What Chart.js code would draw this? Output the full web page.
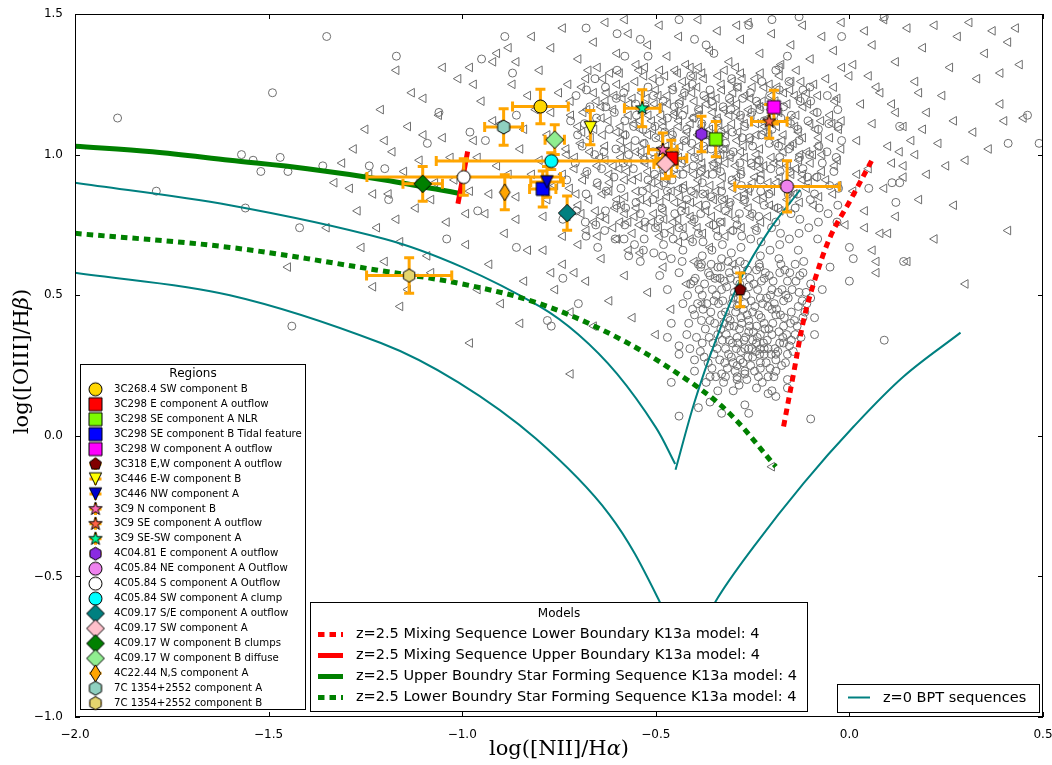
<!DOCTYPE html>
<html>
<head>
<meta charset="utf-8">
<title>BPT diagram</title>
<script src="https://cdn.jsdelivr.net/npm/chart.js@4.4.1/dist/chart.umd.min.js"></script>
<style>
  html, body { margin: 0; padding: 0; background: #ffffff; }
  canvas { display: block; }
</style>
</head>
<body>
<canvas id="myChart" width="1052" height="765" style="width:1052px;height:765px"></canvas>
<script>
// values
const xTicks = [-2.0, -1.5, -1.0, -0.5, 0.0, 0.5];
const yTicks = [-1.0, -0.5, 0.0, 0.5, 1.0, 1.5];

const regionLabels = [
  "3C268.4 SW component B",
  "3C298 E component A outflow",
  "3C298 SE component A NLR",
  "3C298 SE component B Tidal feature",
  "3C298 W component A outflow",
  "3C318 E,W component A outflow",
  "3C446 E-W component B",
  "3C446 NW component A",
  "3C9 N component B",
  "3C9 SE component A outflow",
  "3C9 SE-SW component A",
  "4C04.81 E component A outflow",
  "4C05.84 NE component A Outflow",
  "4C05.84 S component A Outflow",
  "4C05.84 SW component A clump",
  "4C09.17 S/E component A outflow",
  "4C09.17 SW component A",
  "4C09.17 W component B clumps",
  "4C09.17 W component B diffuse",
  "4C22.44 N,S component A",
  "7C 1354+2552 component A",
  "7C 1354+2552 component B"
];
const regionX = [-0.798, -0.460, -0.345, -0.792, -0.195, -0.282, -0.669, -0.781, -0.482, -0.207, -0.535,
  -0.382, -0.161, -0.996, -0.770, -0.729, -0.475, -1.102, -0.761, -0.890, -0.893, -1.137];
const regionY = [1.171, 0.987, 1.055, 0.878, 1.169, 0.519, 1.096, 0.903, 1.017, 1.118, 1.165,
  1.073, 0.887, 0.920, 0.977, 0.792, 0.967, 0.896, 1.053, 0.866, 1.098, 0.570];
const regionXErr = [0.072, 0.040, 0.0, 0.034, 0.0, 0.0, 0.0, 0.042, 0.037, 0.046, 0.046,
  0.0, 0.135, 0.250, 0.297, 0.0, 0.030, 0.051, 0.025, 0.0, 0.049, 0.110];
const regionYErr = [0.061, 0.064, 0.063, 0.064, 0.060, 0.060, 0.061, 0.055, 0.060, 0.060, 0.066,
  0.063, 0.091, 0.065, 0.030, 0.061, 0.053, 0.062, 0.053, 0.062, 0.065, 0.063];

const modelLabels = [
  "z=2.5 Mixing Sequence Lower Boundary K13a model: 4",
  "z=2.5 Mixing Sequence Upper Boundary K13a model: 4",
  "z=2.5 Upper Boundry Star Forming Sequence K13a model: 4",
  "z=2.5 Lower Boundry Star Forming Sequence K13a model: 4"
];
const bptLabel = "z=0 BPT sequences";

// model curves
const mixLowerX = [-0.170, -0.144, -0.118, -0.092, -0.049, 0.003, 0.063];
const mixLowerY = [0.033, 0.223, 0.413, 0.543, 0.709, 0.839, 0.993];
const mixUpperX = [-1.011, -0.986];
const mixUpperY = [0.825, 1.011];
const sfUpperX = [-2.0, -1.8, -1.6, -1.4, -1.2, -1.0];
const sfUpperY = [1.03, 1.01, 0.98, 0.95, 0.91, 0.86];
const sfLowerX = [-2.0, -1.6, -1.2, -1.0, -0.8, -0.6, -0.42, -0.31, -0.19];
const sfLowerY = [0.72, 0.67, 0.585, 0.54, 0.47, 0.35, 0.20, 0.08, -0.11];

// z=0 BPT sequences
const bptAX = [-2.0, -1.6, -1.2, -1.0, -0.8, -0.7, -0.6, -0.5, -0.45];
const bptAY = [0.90, 0.82, 0.70, 0.60, 0.46, 0.36, 0.22, 0.03, -0.10];
const bptBX = [-0.449, -0.400, -0.345, -0.280, -0.205, -0.127];
const bptBY = [-0.121, 0.120, 0.340, 0.560, 0.735, 0.875];
const bptCX = [-2.0, -1.6, -1.21, -1.01, -0.81, -0.62, -0.49, -0.46];
const bptCY = [0.58, 0.50, 0.33, 0.19, -0.01, -0.28, -0.59, -0.72];
const bptDX = [-0.40, -0.346, -0.247, -0.118, 0.011, 0.140, 0.287];
const bptDY = [-0.75, -0.59, -0.394, -0.168, 0.033, 0.211, 0.367];

// comparison sample, open left triangles
const sampleTriangles = [
  [-0.98,1.31],[-0.91,1.36],[-0.86,1.33],[-0.82,1.42],[-0.77,1.38],[-0.74,1.45],[-0.70,1.34],[-0.66,1.40],
  [-0.63,1.47],[-0.60,1.36],[-0.57,1.43],[-0.55,1.32],[-0.52,1.39],[-0.49,1.46],[-0.47,1.35],[-0.44,1.42],
  [-0.41,1.31],[-0.39,1.48],[-0.36,1.37],[-0.34,1.44],[-0.31,1.33],[-0.28,1.41],[-0.26,1.47],[-0.23,1.36],
  [-0.20,1.43],[-0.18,1.31],[-0.15,1.39],[-0.12,1.46],[-0.10,1.34],[-0.07,1.42],[-0.04,1.37],[-0.02,1.47],
  [0.01,1.32],[0.04,1.44],[0.06,1.39],[0.09,1.48],[-0.65,1.31],[-0.45,1.30],[-0.29,1.46],[-0.58,1.48],
  [0.12,1.33],[0.15,1.45],[0.17,1.26],[0.19,1.38],[0.22,1.46],[0.24,1.21],[0.26,1.31],[0.28,1.42],
  [0.31,1.47],[0.33,1.27],[0.35,1.36],[0.37,1.44],[0.39,1.18],[0.41,1.40],[0.43,1.45],[0.11,1.18],
  [0.14,1.10],[0.20,1.15],[0.23,1.04],[0.27,1.12],[0.30,0.98],[0.32,1.08],[0.36,1.02],[0.40,1.12],
  [0.44,1.32],[0.18,1.22],[0.25,0.96],[0.13,1.01],[0.08,1.22],[0.05,1.28],
  [-0.04,1.24],[-0.02,1.12],[0.00,1.28],[0.02,1.05],[0.03,1.18],[0.05,0.95],[0.06,1.11],[0.07,1.24],
  [0.09,0.88],[0.10,1.03],[0.12,1.15],[0.14,0.92],[0.16,1.05],[0.18,0.84],[-0.03,0.98],[0.01,0.87],
  [0.04,0.80],[0.08,0.72],[0.12,0.78],[0.20,0.93],[0.22,0.70],[0.15,0.62],[0.27,0.82],[-0.01,0.75],
  [0.06,0.66],[0.30,0.54],[0.11,0.97],[0.19,1.09],[-0.05,1.06],[0.02,0.93],
  [-0.70,0.82],[-0.71,0.95],[-0.69,1.08],[-0.72,1.19],[-0.68,1.27],
  [-0.66,0.76],[-0.65,0.89],[-0.67,1.01],[-0.64,1.13],[-0.66,1.22],[-0.63,0.98],
  [-0.61,0.74],[-0.60,0.84],[-0.62,0.93],[-0.59,1.05],[-0.61,1.16],[-0.60,1.25],[-0.58,0.79],
  [-0.56,0.72],[-0.55,0.87],[-0.57,0.97],[-0.54,1.09],[-0.56,1.20],[-0.53,1.28],[-0.55,0.81],[-0.57,1.03],
  [-0.51,0.76],[-0.50,0.86],[-0.52,0.94],[-0.49,1.02],[-0.51,1.12],[-0.50,1.23],[-0.48,0.80],[-0.52,1.07],[-0.49,1.17],
  [-0.46,0.73],[-0.45,0.83],[-0.47,0.91],[-0.44,0.99],[-0.46,1.08],[-0.45,1.15],[-0.43,1.26],[-0.47,1.21],[-0.44,0.88],
  [-0.41,0.78],[-0.40,0.86],[-0.42,0.95],[-0.39,1.03],[-0.41,1.11],[-0.40,1.19],[-0.38,1.29],[-0.42,1.24],[-0.39,0.91],
  [-0.36,0.75],[-0.35,0.84],[-0.37,0.93],[-0.34,1.00],[-0.36,1.09],[-0.35,1.17],[-0.33,1.25],[-0.37,0.80],[-0.34,1.13],
  [-0.31,0.79],[-0.30,0.88],[-0.32,0.97],[-0.29,1.05],[-0.31,1.14],[-0.30,1.22],[-0.28,1.29],[-0.32,1.02],[-0.29,0.92],
  [-0.26,0.81],[-0.25,0.90],[-0.27,0.99],[-0.24,1.07],[-0.26,1.16],[-0.25,1.24],[-0.23,0.95],[-0.27,1.11],
  [-0.21,0.78],[-0.20,0.87],[-0.22,0.96],[-0.19,1.04],[-0.21,1.13],[-0.20,1.21],[-0.18,1.28],[-0.22,1.08],
  [-0.16,0.84],[-0.15,0.93],[-0.17,1.01],[-0.14,1.10],[-0.16,1.18],[-0.15,1.26],[-0.13,0.98],
  [-0.11,0.88],[-0.10,0.97],[-0.12,1.06],[-0.09,1.15],[-0.11,1.22],[-0.08,1.03],
  [-0.06,0.91],[-0.07,1.00],[-0.05,1.14],[-0.06,1.27],
  [-0.63,1.19],[-0.58,0.91],[-0.53,0.99],[-0.48,1.10],[-0.43,0.82],[-0.38,0.97],[-0.33,0.89],[-0.28,1.01],
  [-0.23,1.17],[-0.18,0.92],[-0.13,1.20],[-0.62,0.87],[-0.57,1.14],[-0.52,0.83],[-0.47,0.97],[-0.42,1.05],
  [-0.37,1.20],[-0.32,1.09],[-0.27,0.86],[-0.22,1.24],[-0.17,1.07],[-0.12,0.93],[-0.54,1.16],[-0.44,1.12],
  [-0.34,0.95],[-0.24,1.00],[-0.59,0.99],[-0.49,0.89],[-0.39,1.14],[-0.29,1.18],
  [-0.728,0.78],[-0.722,0.88],[-0.731,1.02],[-0.719,1.14],[-0.726,1.25],
  [-0.679,0.73],[-0.672,0.84],[-0.681,0.93],[-0.668,1.06],[-0.677,1.16],[-0.674,1.30],
  [-0.628,0.77],[-0.619,0.90],[-0.631,1.03],[-0.622,1.12],[-0.627,1.22],[-0.618,1.29],
  [-0.571,0.76],[-0.579,0.85],[-0.574,0.94],[-0.582,1.07],[-0.569,1.18],[-0.576,1.24],
  [-0.529,0.74],[-0.521,0.88],[-0.527,0.97],[-0.532,1.04],[-0.519,1.14],[-0.524,1.20],[-0.528,1.31],
  [-0.478,0.77],[-0.471,0.85],[-0.479,0.94],[-0.473,1.03],[-0.481,1.12],[-0.469,1.18],[-0.476,1.28],
  [-0.428,0.74],[-0.421,0.80],[-0.427,0.89],[-0.431,0.98],[-0.419,1.08],[-0.424,1.16],[-0.429,1.21],[-0.422,1.32],
  [-0.378,0.72],[-0.371,0.86],[-0.379,0.95],[-0.373,1.02],[-0.381,1.10],[-0.369,1.18],[-0.376,1.27],
  [-0.328,0.76],[-0.321,0.84],[-0.327,0.92],[-0.331,1.00],[-0.319,1.07],[-0.324,1.16],[-0.329,1.23],[-0.322,1.30],
  [-0.278,0.74],[-0.271,0.83],[-0.279,0.94],[-0.273,1.03],[-0.281,1.13],[-0.269,1.21],[-0.276,1.27],
  [-0.228,0.76],[-0.221,0.85],[-0.227,0.93],[-0.231,1.02],[-0.219,1.10],[-0.224,1.19],[-0.229,1.29],
  [-0.178,0.80],[-0.171,0.89],[-0.179,0.97],[-0.173,1.05],[-0.181,1.15],[-0.169,1.22],[-0.176,1.32],
  [-0.128,0.83],[-0.121,0.91],[-0.127,1.00],[-0.131,1.08],[-0.119,1.17],[-0.124,1.26],
  [-0.078,0.85],[-0.071,0.94],[-0.079,1.06],[-0.073,1.12],[-0.081,1.21],
  [-0.028,0.89],[-0.021,1.02],[-0.027,1.09],[-0.031,1.20],[-0.019,1.31],
  [-0.705,0.86],[-0.709,0.99],[-0.701,1.10],
  [-0.655,0.80],[-0.651,0.96],[-0.659,1.09],[-0.653,1.19],
  [-0.605,0.81],[-0.609,0.96],[-0.601,1.08],[-0.607,1.21],
  [-0.555,0.78],[-0.559,0.91],[-0.551,1.01],[-0.557,1.11],[-0.553,1.26],
  [-0.505,0.79],[-0.509,0.90],[-0.501,0.99],[-0.507,1.09],[-0.503,1.18],[-0.506,1.27],
  [-0.455,0.76],[-0.459,0.87],[-0.451,0.95],[-0.457,1.05],[-0.453,1.14],[-0.456,1.24],
  [-0.405,0.76],[-0.409,0.83],[-0.401,0.93],[-0.407,1.01],[-0.403,1.13],[-0.406,1.22],[-0.402,1.28],
  [-0.355,0.78],[-0.359,0.89],[-0.351,0.97],[-0.357,1.06],[-0.353,1.15],[-0.356,1.21],
  [-0.305,0.73],[-0.309,0.82],[-0.301,0.90],[-0.307,0.99],[-0.303,1.11],[-0.306,1.19],[-0.302,1.26],
  [-0.255,0.78],[-0.259,0.87],[-0.251,0.96],[-0.257,1.05],[-0.253,1.14],[-0.256,1.20],
  [-0.205,0.82],[-0.209,0.90],[-0.201,0.99],[-0.207,1.07],[-0.203,1.16],[-0.206,1.25],
  [-0.155,0.87],[-0.159,0.96],[-0.151,1.03],[-0.157,1.12],[-0.153,1.23],
  [-0.105,0.90],[-0.109,1.01],[-0.101,1.11],[-0.107,1.18],
  [-0.692,0.79],[-0.688,0.91],[-0.694,1.04],[-0.687,1.15],[-0.691,1.24],
  [-0.642,0.78],[-0.638,0.86],[-0.644,0.99],[-0.637,1.07],[-0.641,1.17],[-0.636,1.27],
  [-0.592,0.76],[-0.588,0.82],[-0.594,0.95],[-0.587,1.02],[-0.591,1.10],[-0.586,1.20],[-0.593,1.29],
  [-0.542,0.75],[-0.538,0.84],[-0.544,0.92],[-0.537,1.01],[-0.541,1.12],[-0.536,1.22],[-0.543,1.30],
  [-0.492,0.74],[-0.488,0.83],[-0.494,0.92],[-0.487,0.98],[-0.491,1.06],[-0.486,1.14],[-0.493,1.21],[-0.489,1.30],
  [-0.442,0.77],[-0.438,0.85],[-0.444,0.93],[-0.437,1.03],[-0.441,1.10],[-0.436,1.19],[-0.443,1.29],
  [-0.392,0.74],[-0.388,0.82],[-0.394,0.88],[-0.387,0.99],[-0.391,1.07],[-0.386,1.16],[-0.393,1.24],[-0.389,1.31],
  [-0.342,0.73],[-0.338,0.81],[-0.344,0.87],[-0.337,0.98],[-0.341,1.04],[-0.336,1.11],[-0.343,1.20],[-0.339,1.28],
  [-0.292,0.77],[-0.288,0.85],[-0.294,0.96],[-0.287,1.08],[-0.291,1.15],[-0.286,1.24],[-0.293,1.31],
  [-0.242,0.74],[-0.238,0.84],[-0.244,0.92],[-0.237,0.98],[-0.241,1.11],[-0.236,1.18],[-0.243,1.27],
  [-0.192,0.81],[-0.188,0.90],[-0.194,0.97],[-0.187,1.10],[-0.191,1.19],[-0.186,1.24],
  [-0.142,0.86],[-0.138,0.95],[-0.144,1.04],[-0.137,1.14],[-0.141,1.21],[-0.136,1.30],
  [-0.092,0.82],[-0.088,0.92],[-0.094,1.00],[-0.087,1.09],[-0.091,1.25],
  [-0.042,0.86],[-0.038,0.96],[-0.044,1.11],[-0.037,1.19],
  [-1.31,0.97],[-1.29,0.88],[-1.27,0.80],[-1.25,1.09],[-1.24,0.93],[-1.22,0.74],[-1.21,1.16],[-1.19,0.86],
  [-1.18,1.01],[-1.16,0.69],[-1.15,0.94],[-1.13,1.22],[-1.12,0.81],[-1.10,1.07],[-1.09,0.64],[-1.07,0.90],
  [-1.06,1.14],[-1.04,0.76],[-1.03,0.99],[-1.01,1.27],[-0.99,0.68],[-0.98,0.87],[-0.97,1.05],[-0.95,1.19],
  [-0.94,0.79],[-0.93,0.61],[-0.91,0.96],[-0.90,1.11],[-0.89,0.72],[-0.87,1.25],[-0.86,0.85],[-0.85,1.02],
  [-0.83,0.66],[-0.82,0.93],[-0.81,1.16],[-0.79,0.78],[-0.78,1.07],[-0.77,0.58],[-0.76,0.89],[-0.75,1.22],
  [-0.74,0.71],[-0.73,1.00],[-0.80,1.30],[-0.92,1.33],[-1.05,1.31],[-0.84,0.55],[-0.96,0.52],[-1.08,0.58],
  [-1.20,0.62],[-0.88,1.38],[-1.14,0.52],[-1.26,0.67],[-1.33,0.90],[-1.35,0.74],[-1.17,1.30],
  [-1.28,1.02],[-1.23,0.86],[-1.20,1.05],[-1.17,0.77],[-1.14,1.10],[-1.11,0.98],[-1.08,0.84],[-1.05,1.06],
  [-1.02,0.91],[-0.99,0.79],[-0.96,0.99],[-0.93,0.86],[-0.92,1.12],[-0.88,0.93],[-0.86,0.77],[-0.84,1.09],
  [-0.80,0.98],[-0.78,0.84],[-0.77,1.15],[-0.74,0.93],[-0.83,1.21],[-0.97,1.25],[-1.10,1.20],
  [-0.79,0.66],[-0.76,0.52],[-0.74,0.61],[-0.72,0.44],[-0.70,0.68],[-0.68,0.55],[-0.66,0.39],[-0.64,0.63],
  [-0.62,0.48],[-0.60,0.70],[-0.58,0.57],[-0.56,0.42],[-0.54,0.65],[-0.52,0.51],[-0.50,0.36],[-0.48,0.60],
  [-0.46,0.45],[-0.44,0.69],[-0.42,0.54],[-0.40,0.62],[-0.38,0.47],[-0.36,0.67],[-0.34,0.56],[-0.32,0.71],
  [-0.30,0.61],[-0.71,0.58],[-0.65,0.71],[-0.57,0.66],[-0.49,0.71],[-0.41,0.70],
  [0.07,0.58],[0.10,0.72],[0.14,0.96],[0.17,1.00],[0.04,0.74],[0.41,0.73],[0.45,1.13],[0.39,1.29],
  [0.07,0.62],[-0.72,0.22],[-1.45,0.60],[-1.23,0.53],[-1.16,0.46],[-0.98,0.33],[-0.20,-0.11],[-0.85,0.40],
  [-0.90,0.47]
];

// comparison sample, open circles
const sampleCircles = [
  [-0.73,0.91],[-0.72,1.12],[-0.74,0.77],
  [-0.68,0.86],[-0.69,1.03],[-0.67,1.17],[-0.68,0.71],
  [-0.63,0.80],[-0.64,0.95],[-0.62,1.09],[-0.63,1.24],[-0.65,0.67],
  [-0.58,0.75],[-0.59,0.88],[-0.57,1.00],[-0.58,1.12],[-0.60,1.30],[-0.57,0.64],
  [-0.53,0.70],[-0.54,0.79],[-0.52,0.91],[-0.53,1.04],[-0.55,1.14],[-0.52,1.24],[-0.54,0.62],
  [-0.48,0.68],[-0.49,0.77],[-0.47,0.87],[-0.48,0.95],[-0.50,1.06],[-0.47,1.13],[-0.49,1.26],[-0.46,0.63],
  [-0.43,0.66],[-0.44,0.74],[-0.42,0.84],[-0.43,0.93],[-0.45,1.01],[-0.42,1.09],[-0.44,1.18],[-0.41,1.28],
  [-0.38,0.64],[-0.39,0.72],[-0.37,0.82],[-0.38,0.90],[-0.40,0.99],[-0.37,1.07],[-0.39,1.16],[-0.36,1.23],
  [-0.33,0.63],[-0.34,0.71],[-0.32,0.80],[-0.33,0.87],[-0.35,0.96],[-0.32,1.04],[-0.34,1.12],[-0.31,1.20],
  [-0.28,0.67],[-0.29,0.75],[-0.27,0.84],[-0.28,0.93],[-0.30,1.01],[-0.27,1.10],[-0.29,1.24],
  [-0.23,0.64],[-0.24,0.73],[-0.22,0.82],[-0.23,0.91],[-0.25,1.03],[-0.22,1.12],[-0.24,1.19],
  [-0.18,0.68],[-0.19,0.76],[-0.17,0.89],[-0.18,0.99],[-0.20,1.09],[-0.17,1.17],[-0.19,1.30],
  [-0.13,0.72],[-0.14,0.81],[-0.12,0.95],[-0.13,1.05],[-0.15,1.14],[-0.12,1.23],
  [-0.08,0.76],[-0.09,0.86],[-0.07,0.97],[-0.08,1.09],[-0.10,1.19],
  [-0.03,0.82],[-0.04,0.94],[-0.02,1.05],[-0.03,1.16],
  [-0.705,0.80],[-0.708,0.97],[-0.702,1.07],[-0.706,1.21],
  [-0.655,0.75],[-0.651,0.90],[-0.658,1.00],[-0.653,1.13],[-0.657,1.27],
  [-0.605,0.70],[-0.601,0.82],[-0.608,0.92],[-0.603,1.02],[-0.607,1.15],[-0.602,1.20],
  [-0.555,0.68],[-0.551,0.83],[-0.558,0.95],[-0.553,1.05],[-0.557,1.10],[-0.552,1.18],
  [-0.505,0.65],[-0.501,0.74],[-0.508,0.84],[-0.503,0.93],[-0.507,1.01],[-0.502,1.10],[-0.506,1.21],
  [-0.455,0.70],[-0.451,0.79],[-0.458,0.91],[-0.453,1.00],[-0.457,1.07],[-0.452,1.17],[-0.456,1.23],
  [-0.405,0.69],[-0.401,0.77],[-0.408,0.87],[-0.403,0.96],[-0.407,1.04],[-0.402,1.13],[-0.406,1.25],
  [-0.355,0.66],[-0.351,0.75],[-0.358,0.85],[-0.353,0.93],[-0.357,1.02],[-0.352,1.10],[-0.356,1.19],
  [-0.305,0.65],[-0.301,0.73],[-0.308,0.83],[-0.303,0.91],[-0.307,1.00],[-0.302,1.08],[-0.306,1.16],[-0.304,1.27],
  [-0.255,0.70],[-0.251,0.79],[-0.258,0.88],[-0.253,0.97],[-0.257,1.06],[-0.252,1.15],[-0.256,1.22],
  [-0.205,0.66],[-0.201,0.74],[-0.208,0.86],[-0.203,0.95],[-0.207,1.04],[-0.202,1.13],[-0.206,1.21],
  [-0.155,0.70],[-0.151,0.79],[-0.158,0.86],[-0.153,0.94],[-0.157,1.02],[-0.152,1.11],[-0.156,1.26],
  [-0.105,0.74],[-0.101,0.84],[-0.108,0.92],[-0.103,1.00],[-0.107,1.12],[-0.102,1.24],
  [-0.055,0.79],[-0.051,0.89],[-0.058,1.01],[-0.053,1.11],[-0.057,1.21],
  [-0.682,0.76],[-0.678,0.94],[-0.684,1.11],[-0.679,1.23],
  [-0.632,0.73],[-0.628,0.87],[-0.634,1.01],[-0.629,1.17],
  [-0.582,0.70],[-0.578,0.81],[-0.584,0.97],[-0.579,1.07],[-0.583,1.22],
  [-0.532,0.66],[-0.528,0.76],[-0.534,0.87],[-0.529,0.98],[-0.533,1.09],[-0.527,1.17],
  [-0.482,0.64],[-0.478,0.72],[-0.484,0.81],[-0.479,0.90],[-0.483,0.99],[-0.477,1.08],[-0.481,1.19],
  [-0.432,0.62],[-0.428,0.71],[-0.434,0.80],[-0.429,0.88],[-0.433,0.97],[-0.427,1.05],[-0.431,1.14],[-0.426,1.22],
  [-0.382,0.61],[-0.378,0.69],[-0.384,0.79],[-0.379,0.86],[-0.383,0.94],[-0.377,1.03],[-0.381,1.11],[-0.376,1.21],
  [-0.332,0.60],[-0.328,0.68],[-0.334,0.76],[-0.329,0.84],[-0.333,0.94],[-0.327,1.02],[-0.331,1.08],[-0.326,1.17],
  [-0.282,0.62],[-0.278,0.71],[-0.284,0.79],[-0.279,0.89],[-0.283,0.97],[-0.277,1.06],[-0.281,1.14],[-0.276,1.20],
  [-0.232,0.60],[-0.228,0.69],[-0.234,0.78],[-0.229,0.87],[-0.233,0.98],[-0.227,1.07],[-0.231,1.16],[-0.226,1.26],
  [-0.182,0.63],[-0.178,0.72],[-0.184,0.81],[-0.179,0.94],[-0.183,1.03],[-0.177,1.13],[-0.181,1.23],
  [-0.132,0.66],[-0.128,0.77],[-0.134,0.86],[-0.129,0.99],[-0.133,1.09],[-0.127,1.19],
  [-0.082,0.70],[-0.078,0.81],[-0.084,0.92],[-0.079,1.03],[-0.083,1.15],
  [-0.032,0.76],[-0.028,0.88],[-0.034,0.99],[-0.029,1.10],
  [-0.44,0.58],[-0.43,0.47],[-0.42,0.36],[-0.41,0.54],[-0.40,0.27],[-0.40,0.43],[-0.39,0.61],[-0.38,0.50],
  [-0.38,0.33],[-0.37,0.19],[-0.36,0.57],[-0.36,0.41],[-0.35,0.29],[-0.35,0.48],[-0.34,0.60],[-0.34,0.36],
  [-0.33,0.22],[-0.33,0.52],[-0.32,0.44],[-0.32,0.31],[-0.31,0.58],[-0.31,0.39],[-0.30,0.26],[-0.30,0.49],
  [-0.29,0.35],[-0.29,0.55],[-0.28,0.42],[-0.28,0.30],[-0.27,0.61],[-0.27,0.47],[-0.27,0.22],[-0.26,0.37],
  [-0.26,0.53],[-0.25,0.28],[-0.25,0.44],[-0.24,0.59],[-0.24,0.33],[-0.23,0.49],[-0.23,0.24],[-0.22,0.40],
  [-0.22,0.56],[-0.21,0.31],[-0.21,0.46],[-0.20,0.36],[-0.20,0.52],[-0.19,0.27],[-0.19,0.43],[-0.18,0.58],
  [-0.18,0.33],[-0.17,0.48],[-0.17,0.39],[-0.16,0.55],[-0.16,0.29],[-0.15,0.44],[-0.14,0.61],[-0.14,0.36],
  [-0.13,0.51],[-0.12,0.42],[-0.12,0.58],[-0.11,0.47],[-0.10,0.54],[-0.36,0.12],[-0.33,0.08],[-0.30,0.16],
  [-0.27,0.11],[-0.24,0.17],[-0.21,0.21],[-0.19,0.14],[-0.16,0.20],[-0.29,0.20],[-0.34,0.16],[-0.39,0.10],
  [-0.44,0.29],[-0.46,0.40],[-0.47,0.52],[-0.31,0.34],[-0.26,0.41],[-0.22,0.29],[-0.28,0.52],[-0.24,0.39],
  [-0.20,0.45],[-0.33,0.43],[-0.25,0.34],[-0.29,0.46],[-0.23,0.36],
  [-0.415,0.40],[-0.418,0.50],[-0.412,0.31],
  [-0.395,0.35],[-0.392,0.47],[-0.398,0.56],
  [-0.375,0.28],[-0.372,0.38],[-0.378,0.45],[-0.374,0.54],
  [-0.355,0.24],[-0.352,0.33],[-0.358,0.44],[-0.354,0.52],[-0.357,0.61],
  [-0.335,0.27],[-0.332,0.38],[-0.338,0.47],[-0.334,0.56],
  [-0.315,0.24],[-0.312,0.29],[-0.318,0.36],[-0.314,0.42],[-0.317,0.53],[-0.313,0.62],
  [-0.295,0.23],[-0.292,0.31],[-0.298,0.39],[-0.294,0.44],[-0.297,0.51],[-0.293,0.59],
  [-0.275,0.26],[-0.272,0.34],[-0.278,0.40],[-0.274,0.45],[-0.277,0.57],
  [-0.255,0.25],[-0.252,0.31],[-0.258,0.39],[-0.254,0.48],[-0.257,0.56],
  [-0.235,0.21],[-0.232,0.29],[-0.238,0.35],[-0.234,0.43],[-0.237,0.52],[-0.233,0.61],
  [-0.215,0.26],[-0.212,0.34],[-0.218,0.38],[-0.214,0.49],[-0.217,0.58],
  [-0.195,0.21],[-0.192,0.31],[-0.198,0.40],[-0.194,0.47],[-0.197,0.55],
  [-0.175,0.25],[-0.172,0.35],[-0.178,0.43],[-0.174,0.52],[-0.177,0.61],
  [-0.155,0.32],[-0.152,0.40],[-0.158,0.49],[-0.154,0.58],
  [-0.135,0.39],[-0.132,0.46],[-0.138,0.55],
  [-0.115,0.44],[-0.112,0.51],[-0.118,0.62],
  [-0.405,0.45],[-0.402,0.55],
  [-0.385,0.30],[-0.382,0.41],[-0.388,0.52],[-0.384,0.60],
  [-0.365,0.26],[-0.362,0.35],[-0.368,0.47],[-0.364,0.58],
  [-0.345,0.21],[-0.342,0.31],[-0.348,0.40],[-0.344,0.50],[-0.347,0.56],
  [-0.325,0.19],[-0.322,0.26],[-0.328,0.34],[-0.324,0.40],[-0.327,0.48],[-0.323,0.55],
  [-0.305,0.28],[-0.302,0.33],[-0.308,0.41],[-0.304,0.47],[-0.307,0.56],
  [-0.285,0.18],[-0.282,0.27],[-0.288,0.33],[-0.284,0.38],[-0.287,0.49],[-0.283,0.54],
  [-0.265,0.20],[-0.262,0.28],[-0.268,0.35],[-0.264,0.43],[-0.267,0.50],[-0.263,0.59],
  [-0.245,0.23],[-0.242,0.30],[-0.248,0.37],[-0.244,0.46],[-0.247,0.54],
  [-0.225,0.19],[-0.222,0.33],[-0.228,0.42],[-0.224,0.47],[-0.227,0.55],
  [-0.205,0.24],[-0.202,0.29],[-0.208,0.38],[-0.204,0.50],[-0.207,0.57],
  [-0.185,0.30],[-0.182,0.37],[-0.188,0.45],[-0.184,0.51],
  [-0.165,0.26],[-0.162,0.36],[-0.168,0.42],[-0.164,0.50],[-0.167,0.59],
  [-0.145,0.30],[-0.142,0.41],[-0.148,0.52],
  [-0.125,0.35],[-0.122,0.48],[-0.128,0.57],
  [-1.89,1.13],[-1.49,1.22],[-1.35,1.42],[-1.17,1.35],[-1.57,1.00],[-1.54,0.98],[-1.47,0.99],[-1.52,0.94],
  [-1.45,0.94],[-1.79,0.87],[-1.56,0.81],[-1.42,0.74],[-1.44,0.39],[-1.36,0.96],[-1.24,0.96],[-1.20,0.95],
  [-1.19,0.84],[-1.04,0.70],[-0.86,0.67],[-0.74,0.56],[-0.78,0.41],[-0.77,0.39],[-0.70,0.47],[-0.46,0.19],
  [-0.47,0.35],[-0.49,0.57],[-1.09,1.04],[-1.11,0.90],[-0.94,1.05],[-0.86,1.14],[-0.96,0.80],[-1.06,1.15],
  [-0.98,1.08],[-0.95,1.34],[-0.87,1.29],
  [-0.89,1.42],[-0.60,1.43],[-0.54,1.41],[-0.44,1.48],[-0.40,1.41],[-0.37,1.39],[-0.26,1.46],[-0.20,1.48],
  [-0.13,1.49],[0.09,1.49],[-0.02,1.42],[-0.58,1.35],[-0.52,1.35],[-0.35,1.36],[-0.68,1.45],[-0.16,1.35],
  [0.41,1.04],[0.13,1.10],[0.11,0.90],[0.13,0.90],[0.12,0.83],[0.14,0.62],[0.00,0.55],[-0.05,0.60],
  [-0.07,0.52],[-0.10,0.49],[0.09,0.34],[0.00,0.67],[0.01,0.63],[-0.10,0.06],[-0.09,0.42],[-0.09,0.36],
  [0.05,0.88],[0.49,1.04],[0.46,1.14],[-0.44,0.07],[-0.26,0.08],[-0.21,0.15],[-0.20,0.16],[-0.16,0.17],
  [-0.40,0.23],[-0.36,0.21],[-0.32,0.21],[-0.29,0.21],[-0.29,0.25],[-0.27,0.23],[-0.23,0.26],[-0.19,0.23],
  [-0.44,0.32],[-0.27,0.31],[-0.26,0.31],[-0.23,0.31],[-0.22,0.31],[-0.19,0.29],[-0.17,0.33],[-0.15,0.34]
];

// marker styles (not data)
const regionShapes = ['o','s','s','s','s','p','v','v','*','*','*','h','o','o','o','D','D','D','D','d','h','h'];
const regionColors = ['#ffd700','#ff0000','#7cfc00','#0000ff','#ff00ff','#800000','#ffff00','#0000cd',
  '#ff69b4','#ff6347','#00fa9a','#8a2be2','#ee82ee','#ffffff','#00ffff','#008080','#ffc0cb','#008000',
  '#90ee90','#ffa500','#8fd0c0','#e5d66e'];
const regionRadius = [6.5, 6.5, 6.5, 6.5, 6.5, 6.2, 6.2, 6.2, 7, 7, 7, 6.4, 6.5, 6.5, 6.5,
  8.8, 8.8, 8.8, 8.8, 8.5, 7, 6.6];

function makeMarker(shape, fill, edge, r, lw) {
  const s = Math.ceil(2 * r + 4);
  const c = document.createElement('canvas');
  c.width = s; c.height = s;
  const g = c.getContext('2d');
  const cx = s / 2, cy = s / 2;
  g.beginPath();
  if (shape === 'o') {
    g.arc(cx, cy, r, 0, Math.PI * 2);
  } else if (shape === 's') {
    g.rect(cx - r, cy - r, 2 * r, 2 * r);
  } else if (shape === 'D' || shape === 'd') {
    const w = shape === 'D' ? r : r * 0.62;
    g.moveTo(cx, cy - r); g.lineTo(cx + w, cy); g.lineTo(cx, cy + r); g.lineTo(cx - w, cy);
  } else if (shape === 'v') {
    g.moveTo(cx - r, cy - r); g.lineTo(cx + r, cy - r); g.lineTo(cx, cy + r);
  } else if (shape === '*') {
    for (let k = 0; k < 10; k++) {
      const a = -Math.PI / 2 + k * Math.PI / 5;
      const rr = k % 2 === 0 ? r : r * 0.382;
      const px = cx + rr * Math.cos(a), py = cy + rr * Math.sin(a);
      if (k === 0) g.moveTo(px, py); else g.lineTo(px, py);
    }
  } else {
    const n = shape === 'p' ? 5 : 6;
    for (let k = 0; k < n; k++) {
      const a = -Math.PI / 2 + k * 2 * Math.PI / n;
      const px = cx + r * Math.cos(a), py = cy + r * Math.sin(a);
      if (k === 0) g.moveTo(px, py); else g.lineTo(px, py);
    }
  }
  g.closePath();
  if (fill) { g.fillStyle = fill; g.fill(); }
  g.lineWidth = lw;
  g.strokeStyle = edge;
  g.stroke();
  return c;
}

const regionMarkers = regionShapes.map((sh, i) => makeMarker(sh, regionColors[i], '#000000', regionRadius[i], 1));

const toPoints = (xs, ys) => xs.map((x, i) => ({ x: x, y: ys[i] }));
const pairPoints = (list) => list.map((p) => ({ x: p[0], y: p[1] }));

const TEAL = '#008080';
const RED = '#ff0000';
const GREEN = '#008000';
const ORANGE = '#ffa500';
const GREY = '#6e6e6e';
const DOTS = [6.5, 5];

function curve(xs, ys, color, width, dash) {
  return {
    data: toPoints(xs, ys),
    showLine: true,
    borderColor: color,
    borderWidth: width,
    borderDash: dash || [],
    borderCapStyle: 'butt',
    pointRadius: 0,
    tension: 0.35,
    fill: false,
    order: 1
  };
}

function drawMixed(ctx, parts, cx, cy, size) {
  let total = 0;
  const widths = parts.map(function (p) {
    ctx.font = (p[1] ? 'italic ' : '') + size + 'px "DejaVu Serif"';
    const w = ctx.measureText(p[0]).width;
    total += w;
    return w;
  });
  let x = cx - total / 2;
  ctx.textAlign = 'left';
  ctx.textBaseline = 'middle';
  parts.forEach(function (p, i) {
    ctx.font = (p[1] ? 'italic ' : '') + size + 'px "DejaVu Serif"';
    ctx.fillText(p[0], x, cy);
    x += widths[i];
  });
}

// orange error bars under the region markers
const errorBarPlugin = {
  id: 'errorBars',
  beforeDatasetDraw(chart, args) {
    if (args.index !== 0) return;
    const xs = chart.scales.x, ys = chart.scales.y, ctx = chart.ctx;
    const cap = 5;
    ctx.save();
    ctx.strokeStyle = ORANGE;
    ctx.lineWidth = 3;
    ctx.lineCap = 'butt';
    for (let i = 0; i < regionX.length; i++) {
      const px = xs.getPixelForValue(regionX[i]);
      const py = ys.getPixelForValue(regionY[i]);
      ctx.beginPath();
      if (regionXErr[i] > 0) {
        const x0 = xs.getPixelForValue(regionX[i] - regionXErr[i]);
        const x1 = xs.getPixelForValue(regionX[i] + regionXErr[i]);
        ctx.moveTo(x0, py); ctx.lineTo(x1, py);
        ctx.moveTo(x0, py - cap); ctx.lineTo(x0, py + cap);
        ctx.moveTo(x1, py - cap); ctx.lineTo(x1, py + cap);
      }
      if (regionYErr[i] > 0) {
        const y0 = ys.getPixelForValue(regionY[i] - regionYErr[i]);
        const y1 = ys.getPixelForValue(regionY[i] + regionYErr[i]);
        ctx.moveTo(px, y0); ctx.lineTo(px, y1);
        ctx.moveTo(px - cap, y0); ctx.lineTo(px + cap, y0);
        ctx.moveTo(px - cap, y1); ctx.lineTo(px + cap, y1);
      }
      ctx.stroke();
    }
    ctx.restore();
  }
};

// frame, inward ticks, axis titles and the three legends
const framePlugin = {
  id: 'frame',
  afterDraw(chart) {
    const ctx = chart.ctx, a = chart.chartArea;
    const xs = chart.scales.x, ys = chart.scales.y;
    ctx.save();
    ctx.strokeStyle = '#000000';
    ctx.lineWidth = 1;
    ctx.beginPath();
    xTicks.forEach(function (v) {
      const px = Math.round(xs.getPixelForValue(v)) + 0.5;
      ctx.moveTo(px, a.bottom); ctx.lineTo(px, a.bottom - 5);
      ctx.moveTo(px, a.top); ctx.lineTo(px, a.top + 5);
    });
    yTicks.forEach(function (v) {
      const py = Math.round(ys.getPixelForValue(v)) + 0.5;
      ctx.moveTo(a.left, py); ctx.lineTo(a.left + 5, py);
      ctx.moveTo(a.right, py); ctx.lineTo(a.right - 5, py);
    });
    ctx.stroke();
    ctx.strokeRect(Math.round(a.left) + 0.5, Math.round(a.top) + 0.5,
      Math.round(a.right - a.left) - 1, Math.round(a.bottom - a.top) - 1);

    // axis titles
    ctx.fillStyle = '#000000';
    drawMixed(ctx, [['log([NII]/H', false], ['\u03b1', true], [')', false]], (a.left + a.right) / 2, 750, 21);
    ctx.save();
    ctx.translate(23, (a.top + a.bottom) / 2 - 4);
    ctx.rotate(-Math.PI / 2);
    drawMixed(ctx, [['log([OIII]/H', false], ['\u03b2', true], [')', false]], 0, 0, 21);
    ctx.restore();

    // Regions legend
    ctx.fillStyle = '#ffffff';
    ctx.fillRect(81, 365, 225, 345);
    ctx.strokeRect(80.5, 364.5, 225, 345);
    ctx.fillStyle = '#000000';
    ctx.textAlign = 'center';
    ctx.textBaseline = 'middle';
    ctx.font = '12px "DejaVu Sans"';
    ctx.fillText('Regions', 193, 374);
    ctx.font = '10.2px "DejaVu Sans"';
    ctx.textAlign = 'left';
    regionLabels.forEach(function (label, i) {
      const cy = 389.3 + i * 14.95;
      ctx.strokeStyle = ORANGE;
      ctx.lineWidth = 3;
      ctx.beginPath();
      ctx.moveTo(95.5 - 6, cy); ctx.lineTo(95.5 + 6, cy);
      ctx.moveTo(95.5, cy - 6); ctx.lineTo(95.5, cy + 6);
      ctx.stroke();
      const m = regionMarkers[i];
      ctx.drawImage(m, 95.5 - m.width / 2, cy - m.height / 2);
      ctx.fillStyle = '#000000';
      ctx.fillText(label, 114, cy);
    });

    // Models legend
    ctx.strokeStyle = '#000000';
    ctx.lineWidth = 1;
    ctx.fillStyle = '#ffffff';
    ctx.fillRect(311, 603, 497, 109);
    ctx.strokeRect(310.5, 602.5, 497, 109);
    ctx.fillStyle = '#000000';
    ctx.textAlign = 'center';
    ctx.font = '12px "DejaVu Sans"';
    ctx.fillText('Models', 559, 614);
    const modelStyles = [[RED, DOTS], [RED, []], [GREEN, []], [GREEN, DOTS]];
    ctx.textAlign = 'left';
    ctx.font = '14.5px "DejaVu Sans"';
    modelLabels.forEach(function (label, i) {
      const cy = 634.5 + i * 21;
      ctx.strokeStyle = modelStyles[i][0];
      ctx.lineWidth = 5;
      ctx.lineCap = 'butt';
      ctx.setLineDash(modelStyles[i][1]);
      ctx.beginPath();
      ctx.moveTo(318, cy); ctx.lineTo(343, cy);
      ctx.stroke();
      ctx.setLineDash([]);
      ctx.fillStyle = '#000000';
      ctx.fillText(label, 356, cy);
    });

    // z=0 legend
    ctx.strokeStyle = '#000000';
    ctx.lineWidth = 1;
    ctx.fillStyle = '#ffffff';
    ctx.fillRect(838, 685, 202, 28);
    ctx.strokeRect(837.5, 684.5, 202, 28);
    ctx.strokeStyle = TEAL;
    ctx.lineWidth = 2;
    ctx.beginPath();
    ctx.moveTo(848, 697.5); ctx.lineTo(870, 697.5);
    ctx.stroke();
    ctx.fillStyle = '#000000';
    ctx.font = '14.5px "DejaVu Sans"';
    ctx.fillText(bptLabel, 883, 698);
    ctx.restore();
  }
};

const tickLabel = (v) => (v < 0 ? '\u2212' : '') + Math.abs(v).toFixed(1);

const ctx = document.getElementById('myChart');

new Chart(ctx, {
  type: 'scatter',
  data: {
    datasets: [
      {
        label: 'Regions',
        data: toPoints(regionX, regionY),
        pointStyle: regionMarkers,
        pointRadius: 7,
        order: 0
      },
      curve(mixLowerX, mixLowerY, RED, 5, DOTS),
      curve(mixUpperX, mixUpperY, RED, 5),
      curve(sfUpperX, sfUpperY, GREEN, 5),
      curve(sfLowerX, sfLowerY, GREEN, 5, DOTS),
      curve(bptAX, bptAY, TEAL, 2),
      curve(bptBX, bptBY, TEAL, 2),
      curve(bptCX, bptCY, TEAL, 2),
      curve(bptDX, bptDY, TEAL, 2),
      {
        label: 'sample circles',
        data: pairPoints(sampleCircles),
        pointStyle: 'circle',
        pointRadius: 4,
        pointBorderWidth: 1,
        pointBorderColor: GREY,
        pointBackgroundColor: 'rgba(0,0,0,0)',
        order: 2
      },
      {
        label: 'sample triangles',
        data: pairPoints(sampleTriangles),
        pointStyle: 'triangle',
        pointRotation: -90,
        pointRadius: 5,
        pointBorderWidth: 1,
        pointBorderColor: GREY,
        pointBackgroundColor: 'rgba(0,0,0,0)',
        order: 2
      }
    ]
  },
  options: {
    responsive: false,
    devicePixelRatio: 1,
    animation: false,
    events: [],
    layout: { padding: { top: 14, right: 9, left: 0, bottom: 0 } },
    scales: {
      x: {
        type: 'linear',
        min: -2.0,
        max: 0.5,
        afterBuildTicks: (scale) => { scale.ticks = xTicks.map((v) => ({ value: v })); },
        afterFit: (scale) => { scale.height = 48; scale.paddingLeft = 0; scale.paddingRight = 0; },
        grid: { display: false },
        border: { display: false },
        ticks: {
          callback: tickLabel,
          color: '#000000',
          padding: 3,
          maxRotation: 0,
          autoSkip: false,
          font: { family: 'DejaVu Sans', size: 12 }
        }
      },
      y: {
        type: 'linear',
        min: -1.0,
        max: 1.5,
        afterBuildTicks: (scale) => { scale.ticks = yTicks.map((v) => ({ value: v })); },
        afterFit: (scale) => { scale.width = 75; scale.paddingTop = 0; scale.paddingBottom = 0; },
        grid: { display: false },
        border: { display: false },
        ticks: {
          callback: tickLabel,
          color: '#000000',
          padding: 4,
          autoSkip: false,
          font: { family: 'DejaVu Sans', size: 12 }
        }
      }
    },
    plugins: {
      legend: { display: false },
      tooltip: { enabled: false },
      title: { display: false }
    }
  },
  plugins: [errorBarPlugin, framePlugin]
});
</script>
</body>
</html>
